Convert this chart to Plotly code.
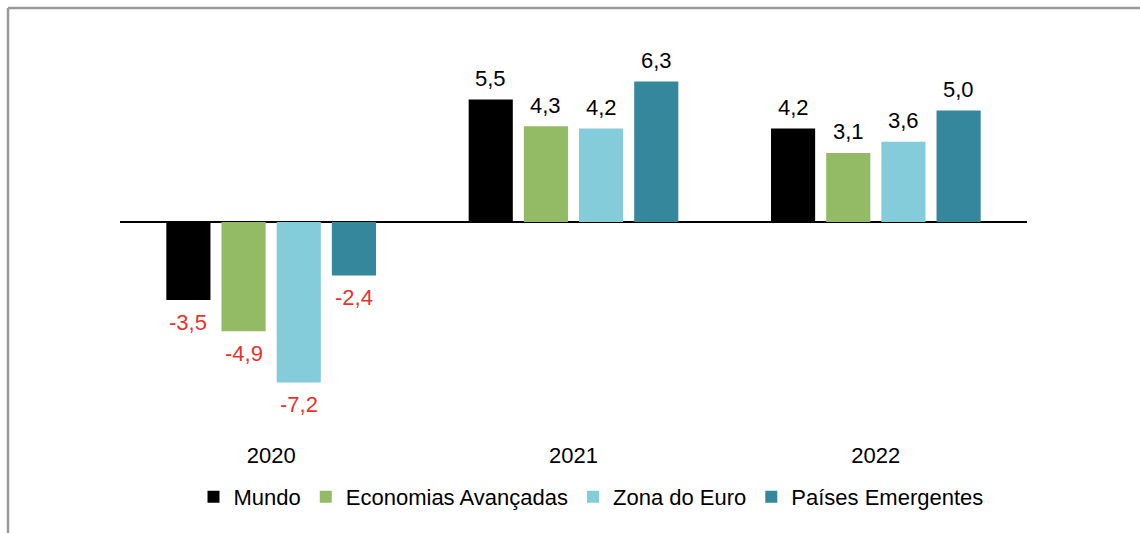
import plotly.graph_objects as go

years = ["2020", "2021", "2022"]
series_names = ["Mundo", "Economias Avançadas", "Zona do Euro", "Países Emergentes"]
mundo = [-3.5, 5.5, 4.2]
economias_avancadas = [-4.9, 4.3, 3.1]
zona_euro = [-7.2, 4.2, 3.6]
paises_emergentes = [-2.4, 6.3, 5.0]
colors = ["#000000", "#93bb65", "#85ccdb", "#35879c"]

FONT = "Liberation Sans, Arial"
W, H = 1140, 533
L, R, T, B = 120, 113, 66, 93
pw = W - L - R
ph = H - T - B
BARGAP = 0.27

all_series = [mundo, economias_avancadas, zona_euro, paises_emergentes]

fig = go.Figure()
for name, vals, col in zip(series_names, all_series, colors):
    fig.add_trace(go.Bar(
        x=years, y=vals, name=name,
        marker=dict(color=col, line=dict(width=0)),
        cliponaxis=False,
    ))

# value labels placed relative to bar ends
n = len(all_series)
slot = (1 - BARGAP) / n
annotations = []
for i, vals in enumerate(all_series):
    off = -(1 - BARGAP) / 2 + (i + 0.5) * slot
    for j, v in enumerate(vals):
        annotations.append(dict(
            x=j + off, y=v, xref="x", yref="y",
            text=f"{v:.1f}".replace(".", ","),
            showarrow=False, yanchor="middle", xanchor="center",
            yshift=21 if v >= 0 else -22,
            font=dict(family=FONT, size=22,
                      color="#e8322f" if v < 0 else "#000000"),
        ))

def px_to_paper_x(px):
    return (px - L) / pw

def px_to_paper_y(py):
    return (H - B - py) / ph

fig.update_layout(
    width=W, height=H,
    margin=dict(l=L, r=R, t=T, b=B),
    paper_bgcolor="white", plot_bgcolor="white",
    barmode="group", bargap=BARGAP, bargroupgap=0.2,
    font=dict(family=FONT, size=22, color="#000000"),
    showlegend=True,
    legend=dict(orientation="h", x=px_to_paper_x(591), xanchor="center",
                y=px_to_paper_y(497), yanchor="middle",
                font=dict(size=22), itemwidth=30, traceorder="normal"),
    xaxis=dict(showline=False, showgrid=False, ticks="", tickfont=dict(size=22)),
    yaxis=dict(range=[-9.78, 7.0], showgrid=False, showticklabels=False,
               zeroline=True, zerolinecolor="#000000", zerolinewidth=1.5,
               showline=False, ticks=""),
    annotations=annotations,
    shapes=[
        dict(type="line", xref="paper", yref="paper",
             x0=px_to_paper_x(8), x1=px_to_paper_x(W + 10),
             y0=px_to_paper_y(8), y1=px_to_paper_y(8),
             line=dict(color="#999999", width=2.5)),
        dict(type="line", xref="paper", yref="paper",
             x0=px_to_paper_x(8), x1=px_to_paper_x(8),
             y0=px_to_paper_y(8), y1=px_to_paper_y(H + 10),
             line=dict(color="#999999", width=2.5)),
    ],
)

fig.write_html(
    "out.html",
    config={"displayModeBar": False},
    post_script="document.body.style.margin='0';document.body.style.overflow='hidden';",
)
